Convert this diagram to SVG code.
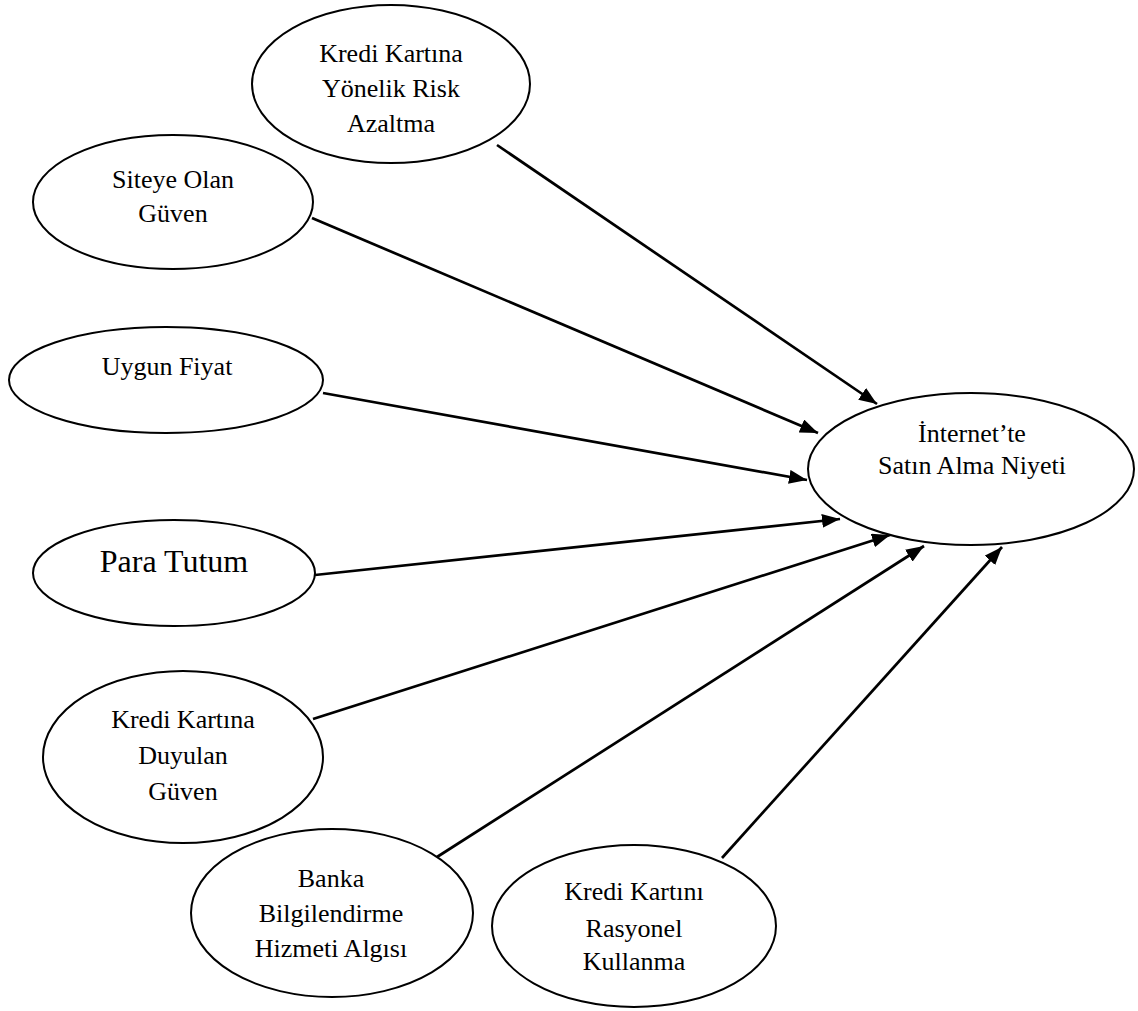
<svg xmlns="http://www.w3.org/2000/svg" width="1138" height="1011" viewBox="0 0 1138 1011">
<style>
  .node ellipse { fill: #ffffff; stroke: #000000; stroke-width: 2; }
  .node text { font-family: "Liberation Serif", "Times New Roman", serif; font-size: 26px; fill: #000000; text-anchor: middle; }
  .node text.big { font-size: 32px; }
  .edges line { stroke: #000000; stroke-width: 2.7; marker-end: url(#arrow); }
</style>
<defs>
  <marker id="arrow" viewBox="0 0 18 14" refX="18" refY="7" markerWidth="18" markerHeight="14" markerUnits="userSpaceOnUse" orient="auto">
    <path d="M0,0 L18,7 L0,14 z" fill="#000000"/>
  </marker>
</defs>
<rect width="1138" height="1011" fill="#ffffff"/>
<g class="edges">
  <line x1="497" y1="145" x2="877" y2="404"/>
  <line x1="312" y1="218" x2="818" y2="433"/>
  <line x1="323" y1="393" x2="807" y2="480"/>
  <line x1="315" y1="575" x2="840" y2="519"/>
  <line x1="313" y1="719" x2="890" y2="535"/>
  <line x1="437" y1="857" x2="924" y2="546"/>
  <line x1="722" y1="858" x2="1002" y2="547"/>
</g>
<g id="risk-azaltma" class="node">
  <ellipse cx="391" cy="84" rx="139" ry="79"/>
  <text x="391" y="62">Kredi Kartına</text>
  <text x="391" y="97">Yönelik Risk</text>
  <text x="391" y="132">Azaltma</text>
</g>
<g id="siteye-guven" class="node">
  <ellipse cx="173" cy="202" rx="140" ry="67"/>
  <text x="173" y="188">Siteye Olan</text>
  <text x="173" y="222">Güven</text>
</g>
<g id="uygun-fiyat" class="node">
  <ellipse cx="166" cy="380" rx="157" ry="53"/>
  <text x="167" y="375">Uygun Fiyat</text>
</g>
<g id="para-tutum" class="node">
  <ellipse cx="174" cy="573" rx="141" ry="53"/>
  <text class="big" x="174" y="572">Para Tutum</text>
</g>
<g id="kart-guven" class="node">
  <ellipse cx="183" cy="757" rx="140" ry="86"/>
  <text x="183" y="728">Kredi Kartına</text>
  <text x="183" y="764">Duyulan</text>
  <text x="183" y="800">Güven</text>
</g>
<g id="banka" class="node">
  <ellipse cx="332" cy="913" rx="141" ry="84"/>
  <text x="331" y="887">Banka</text>
  <text x="331" y="922">Bilgilendirme</text>
  <text x="331" y="957">Hizmeti Algısı</text>
</g>
<g id="rasyonel" class="node">
  <ellipse cx="634" cy="926" rx="142" ry="81"/>
  <text x="634" y="900">Kredi Kartını</text>
  <text x="634" y="937">Rasyonel</text>
  <text x="634" y="970">Kullanma</text>
</g>
<g id="satin-alma" class="node">
  <ellipse cx="971" cy="469" rx="163" ry="76"/>
  <text x="972" y="442">İnternet’te</text>
  <text x="972" y="474">Satın Alma Niyeti</text>
</g>
</svg>
